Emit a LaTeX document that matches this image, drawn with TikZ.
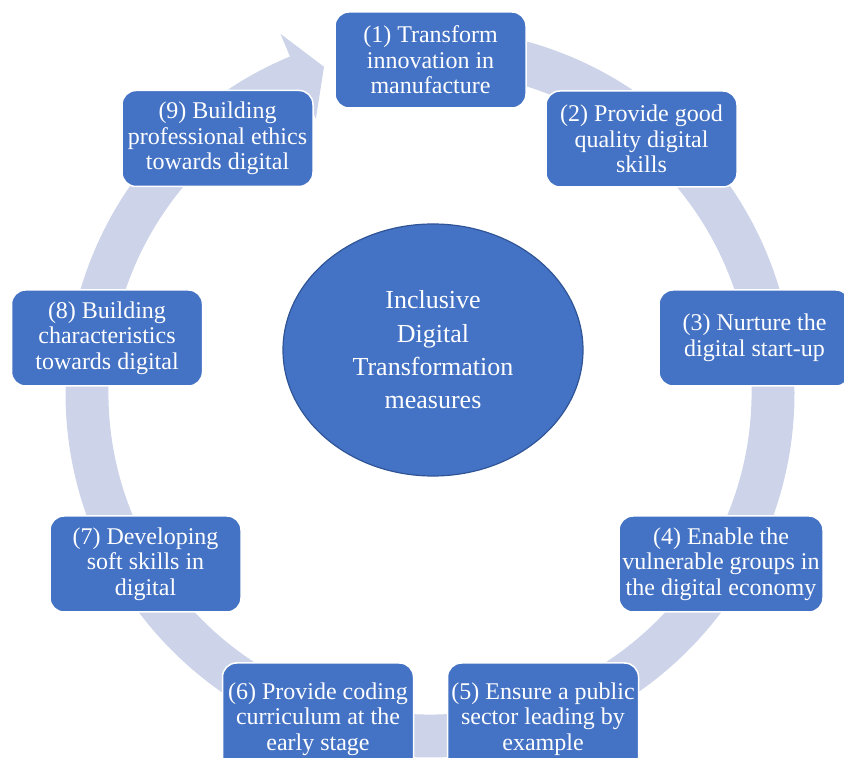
\documentclass[tikz,border=0pt]{standalone}
\usepackage{fontspec}
\setmainfont{Liberation Serif}
\usetikzlibrary{shapes.geometric}
\definecolor{boxblue}{HTML}{4472C4}
\definecolor{ringc}{HTML}{CDD4EA}
\definecolor{ellborder}{HTML}{2F5597}
\tikzset{
  stepbox/.style={rectangle, rounded corners=14pt, fill=boxblue, draw=white,
    line width=1.5pt, text=white, align=center, minimum width=191pt,
    minimum height=96pt, inner sep=2pt, font=\fontsize{24}{25.5}\selectfont},
  hubnode/.style={ellipse, minimum width=300pt, minimum height=252pt,
    fill=boxblue, draw=ellborder, line width=1.2pt, text=white, align=center,
    inner sep=0pt, font=\fontsize{26}{33.3}\selectfont},
  ringfill/.style={fill=ringc}
}
\begin{document}
\begin{tikzpicture}[x=1pt,y=1pt]
\useasboundingbox (0,0) rectangle (844,758);
\coordinate (rc) at (430,365);
% circular arrow
\fill[ringfill] ([shift={(90:364.5pt)}]rc)
  arc[start angle=90,end angle=-247.4,radius=364.5pt]
  -- ([shift={(112.6:389pt)}]rc)
  -- ([shift={(108:343pt)}]rc)
  -- ([shift={(112.6:297pt)}]rc)
  -- ([shift={(112.6:321.5pt)}]rc)
  arc[start angle=112.6,end angle=450,radius=321.5pt] -- cycle;
% hub
\node[hubnode] (hub) at (433,408) {Inclusive\\Digital\\Transformation\\measures};
% steps
\node[stepbox] (s1) at (430.5,698) {(1) Transform\\innovation in\\manufacture};
\node[stepbox] (s2) at (641.5,619) {(2) Provide good\\quality digital\\skills};
\node[stepbox] (s3) at (754.5,420) {(3) Nurture the\\digital start-up};
\node[stepbox, minimum width=204pt] (s4) at (721,194) {(4) Enable the\\vulnerable groups in\\the digital economy};
\node[stepbox, minimum height=112pt] (s5) at (543,39) {(5) Ensure a public\\sector leading by\\example};
\node[stepbox, minimum height=112pt] (s6) at (318,39) {(6) Provide coding\\curriculum at the\\early stage};
\node[stepbox] (s7) at (145.5,194) {(7) Developing\\soft skills in\\digital};
\node[stepbox] (s8) at (107,420) {(8) Building\\characteristics\\towards digital};
\node[stepbox] (s9) at (217.5,619.5) {(9) Building\\professional ethics\\towards digital};
\end{tikzpicture}
\end{document}
